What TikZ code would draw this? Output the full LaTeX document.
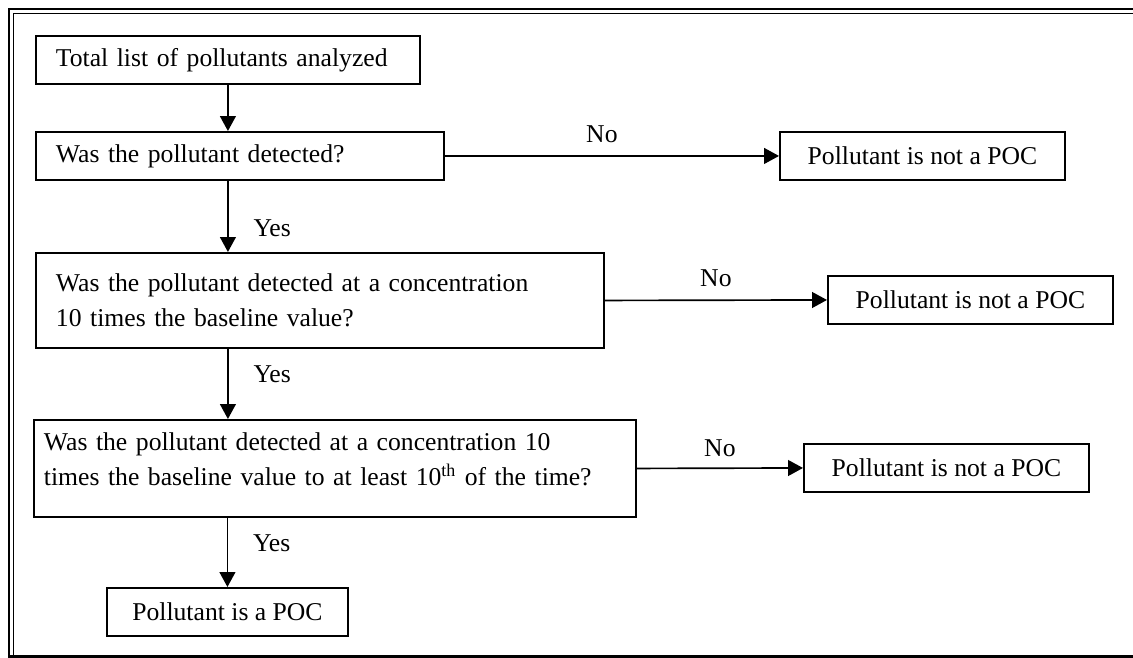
\documentclass[tikz,border=0pt]{standalone}
\usepackage{fontspec}
\setmainfont{Liberation Serif}
\usetikzlibrary{arrows.meta}

\begin{document}
\begin{tikzpicture}[x=0.02cm, y=-0.02cm,
    box/.style={draw, line width=1.1pt, inner ysep=0pt, inner xsep=0.4cm,
      anchor=north west, minimum height=0.96cm,
      font=\fontsize{14.6}{20}\selectfont},
    qbox/.style={box, align=left, text width=#1},
    endbox/.style={box, inner xsep=0pt, minimum width=#1},
    flow/.style={line width=0.95pt, -{Triangle[length=8.5pt,width=9pt]}},
    lbl/.style={font=\fontsize{14.6}{18}\selectfont, inner sep=1pt}]
    \useasboundingbox (0,0) rectangle (1133,658);

    % Page frame
    \draw[line width=1.7pt] (9,658) -- (9,9) -- (1133,9);
    \draw[line width=0.8pt] (13.5,658) -- (13.5,13.5) -- (1133,13.5);
    \draw[line width=1.7pt] (9,656.5) -- (1133,656.5);

    % Boxes
    \node[qbox=6.88cm] (total) at (35,35) {Total list of pollutants analyzed};
    \node[qbox=7.36cm] (detect) at (35,131) {Was the pollutant detected?};
    \node[endbox=5.7cm] (notA) at (779,131) {Pollutant is not a POC};
    \node[qbox=10.56cm, minimum height=1.9cm] (conc) at (35,252)
      {Was the pollutant detected at a concentration\\10 times the baseline value?};
    \node[endbox=5.7cm] (notB) at (827,275) {Pollutant is not a POC};
    \node[qbox=11.64cm, inner xsep=0.2cm, minimum height=1.94cm,
      text depth=1.08cm] (freq) at (33,419)
      {Was the pollutant detected at a concentration 10\\times the baseline value to at least 10\textsuperscript{th} of the time?};
    \node[endbox=5.7cm] (notC) at (803,443) {Pollutant is not a POC};
    \node[endbox=4.82cm] (poc) at (106,587) {Pollutant is a POC};

    % Down the Yes path
    \draw[flow] (total.south) -- (total.south |- detect.north);
    \draw[flow] (detect.south -| total.south) -- (total.south |- conc.north)
      node[lbl, pos=0.67, right=23*0.02cm] {Yes};
    \draw[flow] (conc.south -| total.south) -- (total.south |- freq.north)
      node[lbl, pos=0.36, right=23*0.02cm] {Yes};
    \draw[flow] (freq.south -| poc.north) -- (poc.north)
      node[lbl, pos=0.37, right=23*0.02cm] {Yes};

    % Across the No path
    \draw[flow] (detect.east) -- (notA.west)
      node[lbl, pos=0.47, above=6pt] {No};
    \draw[flow] (conc.east) -- (notB.west)
      node[lbl, midway, above=6pt] {No};
    \draw[flow] (freq.east) -- (notC.west)
      node[lbl, midway, above=5pt] {No};
\end{tikzpicture}
\end{document}
